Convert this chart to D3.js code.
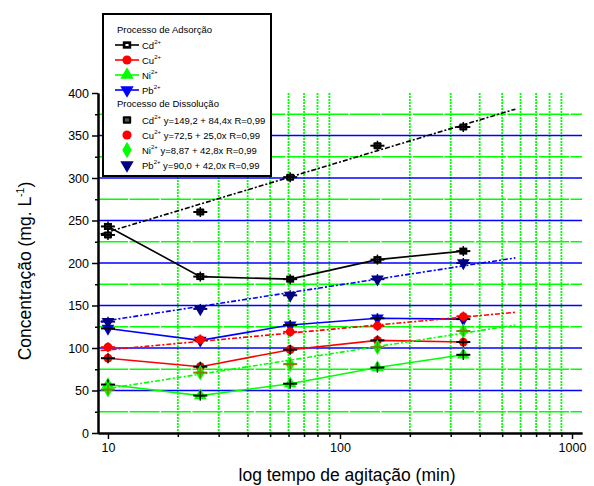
<!DOCTYPE html>
<html>
<head>
<meta charset="utf-8">
<script src="https://cdn.jsdelivr.net/npm/d3@7"></script>
<style>
  body { margin: 0; background: #fff; }
  svg { font-family: "Liberation Sans", Arial, sans-serif; }
</style>
</head>
<body>
<svg id="chart"></svg>
<script>
// tempo de agitação (min)
const times = [10, 25, 61, 145, 340];

// Processo de Adsorção
const cdAds = [243, 184, 181, 204, 214];
const cuAds = [88, 78, 98, 109, 107];
const niAds = [57, 44, 58, 77, 92];
const pbAds = [123, 109, 127, 135, 134];

// Processo de Dissolução
const cdDis = [233, 260, 301, 338, 360];
const cuDis = [101, 110, 119, 126, 137];
const niDis = [51, 71, 81, 101, 120];
const pbDis = [131, 146, 162, 181, 200];

// linear fit ends
const fitTimes = [9.3, 570];
const cdFit = [234, 381];
const cuFit = [97, 142];
const niFit = [51, 127];
const pbFit = [131, 206];

const yMajor = [0, 50, 100, 150, 200, 250, 300, 350, 400];
const yMinor = [25, 75, 125, 175, 225, 275, 325, 375];
const xMajor = [10, 100, 1000];
const xMinor = [20, 30, 40, 50, 60, 70, 80, 90, 200, 300, 400, 500, 600, 700, 800, 900];

const equations = [
    {ion: 'Cd', text: ' y=149,2 + 84,4x R=0,99'},
    {ion: 'Cu', text: ' y=72,5 + 25,0x R=0,99'},
    {ion: 'Ni', text: ' y=8,87 + 42,8x R=0,99'},
    {ion: 'Pb', text: ' y=90,0 + 42,0x R=0,99'}
];

const W = 594, H = 486;
const svg = d3.select('#chart').attr('width', W).attr('height', H);

const xscale = d3.scaleLog().domain([9.06, 1104]).range([98, 582]);
const yscale = d3.scaleLinear().domain([0, 400]).range([433, 93]);

// grid
const grid = svg.append('g');
grid.selectAll('.vgrid').data(xMinor).join('line')
    .attr('x1', d => xscale(d)).attr('x2', d => xscale(d))
    .attr('y1', yscale(400)).attr('y2', yscale(0))
    .attr('stroke', '#00ff00').attr('stroke-width', 1.8)
    .attr('stroke-dasharray', '2,1');
grid.selectAll('.hgrid').data(yMinor).join('line')
    .attr('x1', 98).attr('x2', 582)
    .attr('y1', d => yscale(d)).attr('y2', d => yscale(d))
    .attr('stroke', '#00ff00').attr('stroke-width', 1.6)
    .attr('stroke-dasharray', '30,1.5');
grid.selectAll('.bgrid').data(yMajor.filter(d => d > 0 && d < 400)).join('line')
    .attr('x1', 98).attr('x2', 582)
    .attr('y1', d => yscale(d)).attr('y2', d => yscale(d))
    .attr('stroke', '#0000ff').attr('stroke-width', 1.6);

const series = [
    {vals: cdAds, color: '#000000', err: '#000000', sym: 'sqopen', dis: false},
    {vals: cuAds, color: '#ff0000', err: '#000000', sym: 'circle', dis: false},
    {vals: niAds, color: '#00ff00', err: '#000000', sym: 'tri', dis: false},
    {vals: pbAds, color: '#0000ff', err: '#000000', sym: 'tridown', dis: false},
    {vals: cdDis, fit: cdFit, color: '#000000', err: '#000000', sym: 'square', dis: true},
    {vals: cuDis, fit: cuFit, color: '#ff0000', err: '#ff0000', sym: 'circle', dis: true},
    {vals: niDis, fit: niFit, color: '#00ff00', err: '#808000', sym: 'diamond', dis: true},
    {vals: pbDis, fit: pbFit, color: '#000080', lineColor: '#0000ff', err: '#000080', sym: 'tridown', dis: true}
];

const line = d3.line().x(d => xscale(d[0])).y(d => yscale(d[1]));

function drawMarker(g, type, color, x, y, scale) {
    const s = scale || 1;
    if (type == 'sqopen') {
        g.append('rect').attr('x', x - 4 * s).attr('y', y - 3.5 * s)
            .attr('width', 8 * s).attr('height', 7 * s).attr('fill', color);
        g.append('rect').attr('x', x - 1.5 * s).attr('y', y - 1 * s)
            .attr('width', 3 * s).attr('height', 2 * s).attr('fill', '#fff');
    } else if (type == 'square') {
        g.append('rect').attr('x', x - 4 * s).attr('y', y - 3.5 * s)
            .attr('width', 8 * s).attr('height', 7 * s).attr('rx', 1).attr('fill', color);
        g.append('rect').attr('x', x - 2 * s).attr('y', y - 1.5 * s)
            .attr('width', 4 * s).attr('height', 3 * s).attr('fill', '#555');
    } else {
        const map = {circle: d3.symbolCircle, tri: d3.symbolTriangle, diamond: d3.symbolDiamond, tridown: d3.symbolTriangle};
        const size = {circle: 60, tri: 70, diamond: 70, tridown: 70}[type];
        g.append('path')
            .attr('d', d3.symbol().type(map[type]).size(size * s * s)())
            .attr('transform', `translate(${x},${y})` + (type == 'tridown' ? ' rotate(180)' : ''))
            .attr('fill', color);
    }
}

const plot = svg.append('g');

// adsorption lines
series.filter(s => !s.dis).forEach(s => {
    plot.append('path')
        .datum(times.map((t, i) => [t, s.vals[i]]))
        .attr('d', line)
        .attr('fill', 'none').attr('stroke', s.color).attr('stroke-width', 1.6);
});

// dissolution fits
series.filter(s => s.dis).forEach(s => {
    plot.append('path')
        .datum(fitTimes.map((t, i) => [t, s.fit[i]]))
        .attr('d', line)
        .attr('fill', 'none').attr('stroke', s.lineColor || s.color).attr('stroke-width', 1.6)
        .attr('stroke-dasharray', '5,2,2,2');
});

// markers + error bars
series.forEach(s => {
    s.vals.forEach((v, i) => {
        const x = xscale(times[i]), y = yscale(v);
        drawMarker(plot, s.sym, s.color, x, y);
        plot.append('line').attr('x1', x - 7).attr('x2', x + 7).attr('y1', y).attr('y2', y)
            .attr('stroke', s.err).attr('stroke-width', 2);
        plot.append('line').attr('x1', x).attr('x2', x).attr('y1', y - 5).attr('y2', y + 5)
            .attr('stroke', s.err).attr('stroke-width', 1.5);
    });
});

// axes
const yaxis = d3.axisLeft(yscale).tickValues(yMajor).tickSize(6).tickSizeOuter(0);
const yaxisMinor = d3.axisLeft(yscale).tickValues(yMinor).tickSize(3).tickFormat('').tickSizeOuter(0);
const xaxis = d3.axisBottom(xscale).tickValues(xMajor).tickSize(6).tickFormat(d3.format('d')).tickSizeOuter(0);
const xaxisMinor = d3.axisBottom(xscale).tickValues(xMinor).tickSize(4).tickFormat('').tickSizeOuter(0);

svg.append('g').attr('transform', 'translate(98,0)').call(yaxisMinor);
const yg = svg.append('g').attr('transform', 'translate(98,0)').call(yaxis);
svg.append('g').attr('transform', 'translate(0,433)').call(xaxisMinor);
const xg = svg.append('g').attr('transform', 'translate(0,433)').call(xaxis);

svg.selectAll('.domain').attr('stroke', '#000').attr('stroke-width', 2);
svg.selectAll('.tick line').attr('stroke', '#000').attr('stroke-width', 1.5);
yg.selectAll('text').attr('font-size', 12.5).attr('fill', '#000').attr('x', -9)
    .attr('font-family', '"Liberation Sans", Arial, sans-serif');
xg.selectAll('text').attr('font-size', 12.5).attr('fill', '#000').attr('y', 10)
    .attr('font-family', '"Liberation Sans", Arial, sans-serif');

// axis titles
svg.append('text')
    .attr('x', 347).attr('y', 481)
    .attr('text-anchor', 'middle').attr('font-size', 17.5)
    .text('log tempo de agitação (min)');

const ytitle = svg.append('text')
    .attr('transform', 'translate(31,271) rotate(-90)')
    .attr('text-anchor', 'middle').attr('font-size', 17.5);
ytitle.append('tspan').text('Concentração (mg. L');
ytitle.append('tspan').attr('font-size', 10.5).attr('dy', -7).text('-1');
ytitle.append('tspan').attr('dy', 7).text(')');

// legend
const lg = svg.append('g');
lg.append('rect').attr('x', 103).attr('y', 14).attr('width', 168).attr('height', 162)
    .attr('fill', '#fff').attr('stroke', '#000').attr('stroke-width', 2);

lg.append('text').attr('x', 117).attr('y', 33).attr('font-size', 9.5).text('Processo de Adsorção');
const adsRows = [45, 60, 75, 90];
series.filter(s => !s.dis).forEach((s, i) => {
    const y = adsRows[i];
    lg.append('line').attr('x1', 115).attr('x2', 139).attr('y1', y).attr('y2', y)
        .attr('stroke', s.color).attr('stroke-width', 1.6);
    drawMarker(lg, s.sym, s.color, 127, y, 1.05);
    const t = lg.append('text').attr('x', 142).attr('y', y + 3.5).attr('font-size', 9.5);
    t.append('tspan').text(equations[i].ion);
    t.append('tspan').attr('font-size', 6).attr('dy', -5).text('2+');
});

lg.append('text').attr('x', 117).attr('y', 107).attr('font-size', 9.5).text('Processo de Dissolução');
const disRows = [120, 135, 150, 165];
series.filter(s => s.dis).forEach((s, i) => {
    const y = disRows[i];
    drawMarker(lg, s.sym, s.color, 127, y, 1.05);
    const t = lg.append('text').attr('x', 142).attr('y', y + 3.5).attr('font-size', 9.5);
    t.append('tspan').text(equations[i].ion);
    t.append('tspan').attr('font-size', 6).attr('dy', -5).text('2+');
    t.append('tspan').attr('dy', 5).text(equations[i].text);
});
</script>
</body>
</html>
